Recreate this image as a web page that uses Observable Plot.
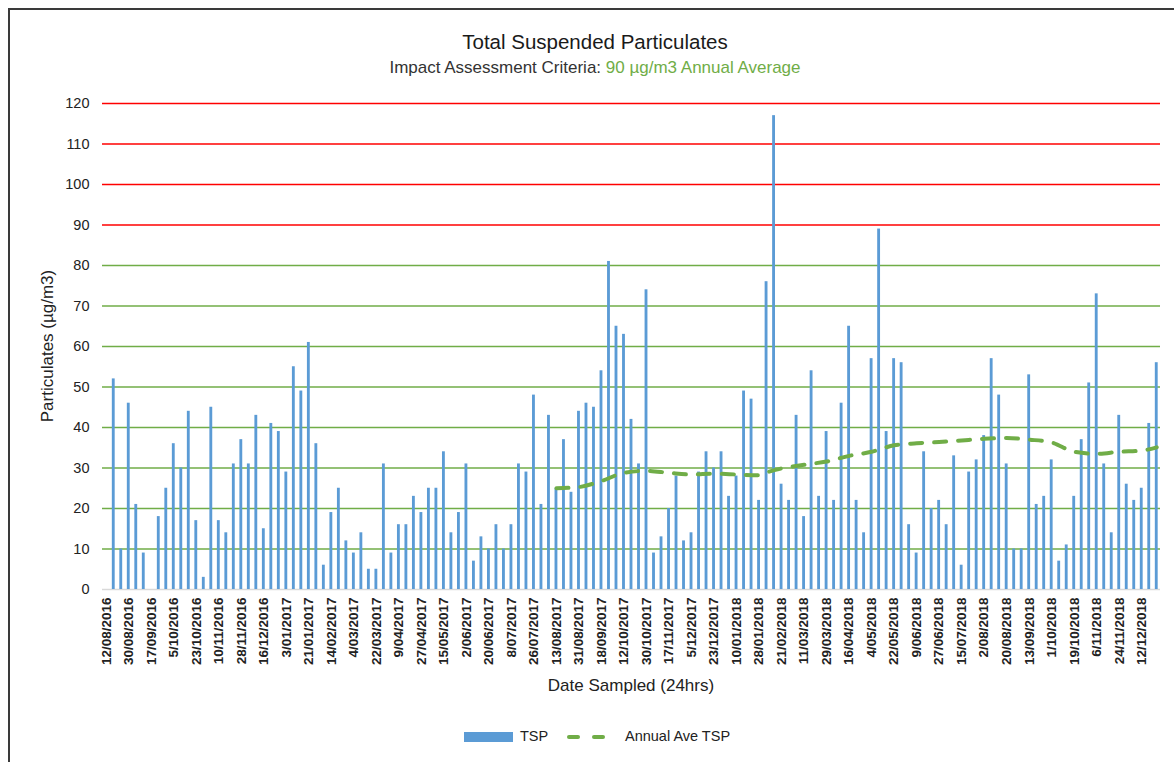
<!DOCTYPE html>
<html>
<head>
<meta charset="utf-8">
<script src="https://cdn.jsdelivr.net/npm/d3@7"></script>
<script src="https://cdn.jsdelivr.net/npm/@observablehq/plot@0.6"></script>
<style>
  html, body { margin: 0; padding: 0; background: #fff; }
  body { width: 1174px; height: 762px; position: relative; overflow: hidden; font-family: "Liberation Sans", Arial, sans-serif; }
  #frame { position: absolute; left: 8px; top: 8px; width: 1200px; height: 800px; border-left: 2px solid #3a3a3a; border-top: 2px solid #3a3a3a; }
  .t { position: absolute; white-space: nowrap; transform: translate(-50%, -50%); color: #1a1a1a; }
  #chart { position: absolute; left: 0; top: 80px; }
  .leg { position: absolute; }
</style>
</head>
<body>
<div id="frame"></div>
<div class="t" style="left:595px; top:42px; font-size:20.5px;">Total Suspended Particulates</div>
<div class="t" style="left:595px; top:68px; font-size:17px; color:#333;">Impact Assessment Criteria: <span style="color:#70AD47">90 µg/m3 Annual Average</span></div>
<div class="t" style="left:48px; top:346px; font-size:17px; color:#222; transform: translate(-50%, -50%) rotate(-90deg);">Particulates (µg/m3)</div>
<div class="t" style="left:631px; top:686px; font-size:17px; color:#222;">Date Sampled (24hrs)</div>
<div id="chart"></div>
<div id="legend"></div>
<script>
// x-axis tick labels (every third sample)
const tickLabels = ["12/08/2016","30/08/2016","17/09/2016","5/10/2016","23/10/2016","10/11/2016","28/11/2016","16/12/2016","3/01/2017","21/01/2017","14/02/2017","4/03/2017","22/03/2017","9/04/2017","27/04/2017","15/05/2017","2/06/2017","20/06/2017","8/07/2017","26/07/2017","13/08/2017","31/08/2017","18/09/2017","12/10/2017","30/10/2017","17/11/2017","5/12/2017","23/12/2017","10/01/2018","28/01/2018","21/02/2018","11/03/2018","29/03/2018","16/04/2018","4/05/2018","22/05/2018","9/06/2018","27/06/2018","15/07/2018","2/08/2018","20/08/2018","13/09/2018","1/10/2018","19/10/2018","6/11/2018","24/11/2018","12/12/2018"];

// TSP per sample (null = no sample)
const tsp = [null,52,10,46,21,9,null,18,25,36,30,44,17,3,45,17,
  14,31,37,31,43,15,41,39,29,55,49,61,36,6,19,25,
  12,9,14,5,5,31,9,16,16,23,19,25,25,34,14,19,
  31,7,13,10,16,10,16,31,29,48,21,43,25,37,24,44,
  46,45,54,81,65,63,42,31,74,9,13,20,28,12,14,29,
  34,30,34,23,28,49,47,22,76,117,26,22,43,18,54,23,
  39,22,46,65,22,14,57,89,39,57,56,16,9,34,20,22,
  16,33,6,29,32,38,57,48,31,10,10,53,21,23,32,7,
  11,23,37,51,73,31,14,43,26,22,25,41,56];

// Annual average TSP: sample index and value
const aveIndex = [60,63,66,69,72,75,78,81,84,87,88,90,93,96,99,102,105,108,111,114,117,120,123,126,129,132,135,138,140];
const aveValue = [25.0,25.3,26.8,28.8,29.3,28.8,28.4,28.6,28.4,28.2,28.9,29.9,30.8,31.6,33.0,34.0,35.6,36.1,36.4,36.8,37.2,37.4,37.0,36.3,34.0,33.5,34.0,34.3,35.1];

const greenGrid = [10,20,30,40,50,60,70,80];
const redGrid = [90,100,110,120];
const yTicks = [0,10,20,30,40,50,60,70,80,90,100,110,120];

const idx = tsp.map((_, i) => i);
const bars = idx.map(i => ({i, v: tsp[i]})).filter(d => d.v != null);
const ave = aveIndex.map((i, k) => ({i, v: aveValue[k]}));
const tickIdx = tickLabels.map((_, k) => k * 3);

const chart = Plot.plot({
  width: 1174,
  height: 620,
  marginLeft: 102,
  marginRight: 14,
  marginTop: 23,
  marginBottom: 111,
  style: {fontFamily: "Liberation Sans, Arial, sans-serif", background: "transparent", color: "#222"},
  x: {type: "band", domain: idx, paddingInner: 0.62, paddingOuter: 0.31, axis: null},
  y: {domain: [0, 120], axis: null},
  marks: [
    Plot.ruleY(greenGrid, {stroke: "#70AD47", strokeWidth: 1.6}),
    Plot.ruleY(redGrid, {stroke: "#FF0000", strokeWidth: 1.6}),
    Plot.ruleY([0], {stroke: "#D9D9D9", strokeWidth: 1.5}),
    Plot.barY(bars, {x: "i", y: "v", fill: "#5B9BD5"}),
    Plot.line(ave, {x: "i", y: "v", stroke: "#70AD47", strokeWidth: 4, strokeDasharray: "12,12", curve: "monotone-x"}),
    Plot.axisY({ticks: yTicks, tickSize: 0, tickPadding: 13, fontSize: 14.5, label: null}),
    Plot.axisX({ticks: tickIdx, tickFormat: i => tickLabels[i / 3], tickRotate: -90, tickSize: 0, tickPadding: 8, fontSize: 13.5, fontWeight: "bold", label: null})
  ]
});
document.getElementById("chart").appendChild(chart);

// legend
const leg = document.getElementById("legend");
leg.innerHTML = `
  <div class="leg" style="left:464px; top:732px; width:49px; height:10px; background:#5B9BD5;"></div>
  <div class="leg" style="left:520px; top:728px; font-size:14.5px; color:#222;">TSP</div>
  <div class="leg" style="left:567px; top:735px; width:13px; height:4px; background:#70AD47; border-radius:2px;"></div>
  <div class="leg" style="left:592px; top:735px; width:13px; height:4px; background:#70AD47; border-radius:2px;"></div>
  <div class="leg" style="left:625px; top:728px; font-size:14.5px; color:#222;">Annual Ave TSP</div>
`;
</script>
</body>
</html>
